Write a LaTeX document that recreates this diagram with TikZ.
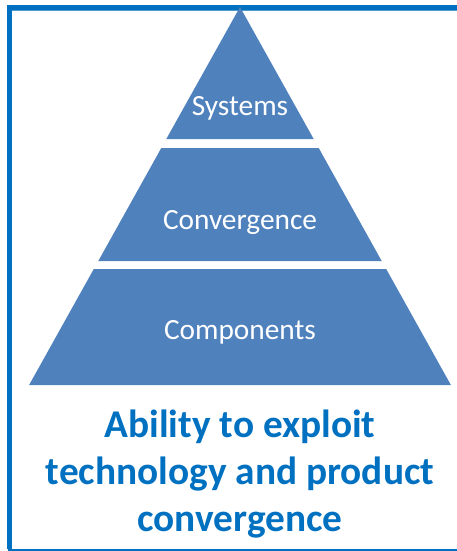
\documentclass[tikz,border=0pt]{standalone}
\usepackage{fontspec}
\setmainfont{Carlito}
\definecolor{tierblue}{HTML}{4F81BD}
\definecolor{frameblue}{HTML}{0070C0}
\tikzset{
  tier/.style={fill=tierblue},
  tierlabel/.style={text=white, font=\fontsize{22}{26}\selectfont},
  caption/.style={text=frameblue, align=center,
    font=\bfseries\fontsize{29.5}{35.5}\selectfont}
}
\begin{document}
\begin{tikzpicture}[x=0.75pt,y=-0.75pt]
      \useasboundingbox (0,0) rectangle (457,551);
      % frame
      \draw[frameblue, line width=3.75pt] (9.5,549) -- (9.5,7.5) -- (457,7.5);
      \draw[frameblue!70, line width=0.75pt] (12,10.5) -- (457,10.5);
      \draw[frameblue, line width=1.5pt] (8,550) -- (457,550);
      % pyramid
      \fill[tier] (240,7) -- (313.7,139) -- (166.3,139) -- cycle;
      \fill[tier] (161.3,148) -- (318.7,148) -- (381.7,261) -- (98.3,261) -- cycle;
      \fill[tier] (93.8,269) -- (386.2,269) -- (450.9,385) -- (29.1,385) -- cycle;
      \draw
        (240,108) node[tierlabel] (systems){Systems}
        (240,222) node[tierlabel] (convergence){Convergence}
        (240,332) node[tierlabel] (components){Components};
      \node[caption] (ability) at (240,474)
        {Ability to exploit\\technology and product\\convergence};
    \end{tikzpicture}
\end{document}
